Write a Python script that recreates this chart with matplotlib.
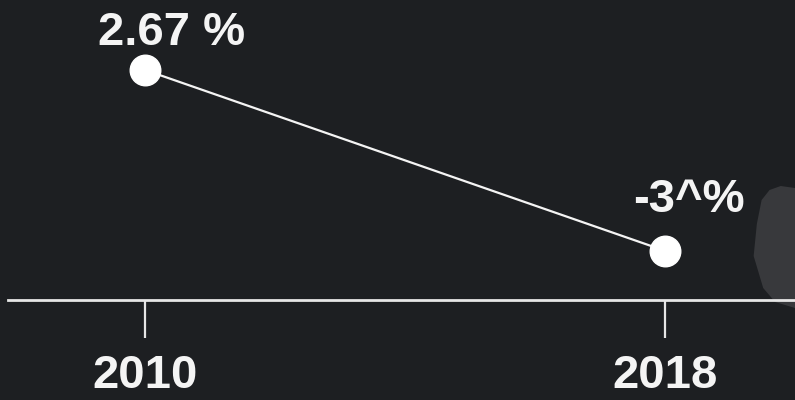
import matplotlib
matplotlib.use("Agg")
import matplotlib.pyplot as plt
from matplotlib.patches import Polygon

years = [2010, 2018]
values = [2.67, -3.0]
value_labels = ["2.67 %", "-3^%"]
tick_labels = ["2010", "2018"]

BG = "#1d1f22"
FG = "#f4f4f4"
FONT = ["Liberation Sans", "DejaVu Sans"]

fig = plt.figure(figsize=(7.95, 4.0), dpi=100, facecolor=BG)

# subtle lighter patch of the background texture on the right edge
fig.patches.append(Polygon([[0.952, 0.44], [0.958, 0.50], [0.968, 0.525], [0.982, 0.535],
                            [1.0, 0.53], [1.0, 0.23], [0.975, 0.245], [0.96, 0.28],
                            [0.948, 0.36]],
                           closed=True, transform=fig.transFigure,
                           facecolor="#38393c", edgecolor="none", zorder=-5))

ax = fig.add_axes([8 / 795, 100 / 400, 1 - 8 / 795, 300 / 400])
ax.set_facecolor("none")
ax.set_zorder(2)

ax.plot(years, values, color=FG, lw=1.6, marker="o", markersize=22,
        markerfacecolor="white", markeredgecolor="white", zorder=3, clip_on=False)

offsets = [(27, 37), (24, 51)]
for x, y, lab, off in zip(years, values, value_labels, offsets):
    ax.annotate(lab, (x, y), xytext=off, textcoords="offset pixels",
                ha="center", va="center", color=FG, fontsize=34,
                fontweight="bold", family=FONT)

ax.set_xlim(2010 - 137 / 65.1, 2018 + 130 / 65.1)
ax.set_ylim(-4.54, 4.86)

for s in ["top", "right", "left"]:
    ax.spines[s].set_visible(False)
ax.spines["bottom"].set_color("#e6e6e6")
ax.spines["bottom"].set_linewidth(2)

ax.set_yticks([])
ax.set_xticks(years)
ax.set_xticklabels(tick_labels)
ax.tick_params(axis="x", colors="#e6e6e6", length=27, width=1.6, pad=12,
               labelsize=34, labelcolor=FG)
for t in ax.get_xticklabels():
    t.set_fontweight("bold")
    t.set_family(FONT)

fig.savefig("out.png", dpi=100, facecolor=BG)
